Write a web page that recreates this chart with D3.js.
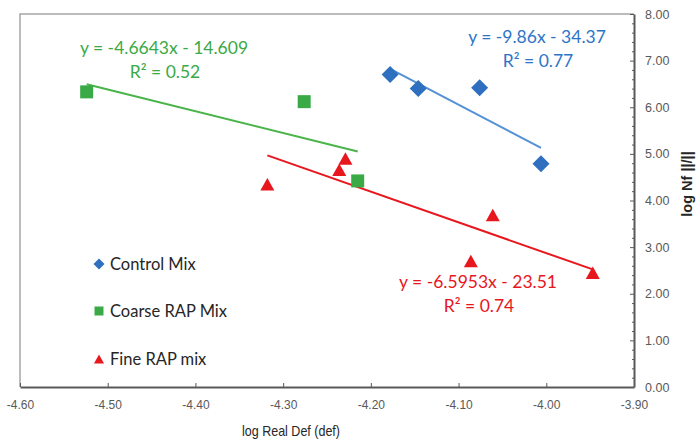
<!DOCTYPE html>
<html>
<head>
<meta charset="utf-8">
<script src="https://cdn.jsdelivr.net/npm/d3@7"></script>
<style>
  html, body { margin: 0; padding: 0; background: #fff; }
  svg { display: block; }
</style>
</head>
<body>
<svg id="chart" width="696" height="442"></svg>
<script>
// Axis ticks
const xTicks = [-4.6, -4.5, -4.4, -4.3, -4.2, -4.1, -4.0, -3.9];
const yTicks = [0, 1, 2, 3, 4, 5, 6, 7, 8];

// Control Mix
const controlX = [-4.178, -4.146, -4.076, -4.006];
const controlY = [6.70, 6.40, 6.42, 4.79];

// Coarse RAP Mix
const coarseX = [-4.524, -4.276, -4.215];
const coarseY = [6.33, 6.12, 4.42];

// Fine RAP mix
const fineX = [-4.318, -4.236, -4.229, -4.086, -4.061, -3.947];
const fineY = [4.35, 4.66, 4.90, 2.70, 3.69, 2.45];

// Linear trend lines: y = slope * x + intercept
const seriesNames = ["Control Mix", "Coarse RAP Mix", "Fine RAP mix"];
const trendSlopes = [-9.86, -4.6643, -6.5953];
const trendIntercepts = [-34.37, -14.609, -23.51];
const trendEquations = ["y = -9.86x - 34.37", "y = -4.6643x - 14.609", "y = -6.5953x - 23.51"];
const trendR2 = ["R² = 0.77", "R² = 0.52", "R² = 0.74"];

const svg = d3.select("#chart");
const plotL = 20, plotR = 634, plotT = 14, plotB = 387;

const x = d3.scaleLinear().domain([-4.6, -3.9]).range([plotL, plotR]);
const y = d3.scaleLinear().domain([0, 8]).range([plotB, plotT]);

const colors = {
  blue: "#2e6fbf", blueLine: "#5591d5",
  green: "#3aaa47", greenLine: "#49b449",
  red: "#e8161d", redLine: "#e8161d"
};

// Plot frame (top and left edges)
svg.append("path")
  .attr("d", `M${plotL},${plotB} V${plotT} H${plotR}`)
  .attr("fill", "none").attr("stroke", "#a6a6a6").attr("stroke-width", 1.5);

const fmt = d => d.toFixed(2);

// X axis (bottom)
const gx = svg.append("g").attr("transform", `translate(0,${plotB})`)
  .call(d3.axisBottom(x).tickValues(xTicks).tickFormat(fmt)
    .tickSizeInner(-4).tickSizeOuter(0).tickPadding(13));
gx.select(".domain").attr("stroke", "#595959").attr("stroke-width", 2);
gx.selectAll(".tick line").attr("stroke", "#595959");
gx.selectAll("text").attr("fill", "#595959")
  .style("font-family", "'Liberation Sans', Arial, sans-serif").style("font-size", "12px");

// Y axis (right side) with minor ticks
const minorTicks = d3.range(0, 8.001, 0.2).filter(v => Math.abs(v - Math.round(v)) > 1e-6);
const gyMinor = svg.append("g").attr("transform", `translate(${plotR},0)`)
  .call(d3.axisRight(y).tickValues(minorTicks).tickFormat("").tickSizeInner(-2).tickSizeOuter(0));
gyMinor.select(".domain").remove();
gyMinor.selectAll(".tick line").attr("stroke", "#595959");

const gy = svg.append("g").attr("transform", `translate(${plotR},0)`)
  .call(d3.axisRight(y).tickValues(yTicks).tickFormat(fmt)
    .tickSizeInner(-4).tickSizeOuter(0).tickPadding(11));
gy.select(".domain").attr("stroke", "#595959").attr("stroke-width", 2);
gy.selectAll(".tick line").attr("stroke", "#595959");
gy.selectAll("text").attr("fill", "#595959")
  .style("font-family", "'Liberation Sans', Arial, sans-serif").style("font-size", "12.5px");

// Axis titles (condensed lettering)
svg.append("text")
  .attr("x", 291).attr("y", 436).attr("text-anchor", "middle")
  .attr("textLength", 98).attr("lengthAdjust", "spacingAndGlyphs")
  .attr("fill", "#262626")
  .style("font-family", "'Liberation Sans', Arial, sans-serif")
  .style("font-size", "15px")
  .text("log Real Def (def)");

svg.append("text")
  .attr("transform", "translate(692,184) rotate(-90)")
  .attr("text-anchor", "middle")
  .attr("fill", "#262626")
  .style("font-family", "'Liberation Sans', Arial, sans-serif")
  .style("font-size", "14.5px").style("font-weight", "bold")
  .text("log Nf ||/||");

// Trend lines over each series' x-range
const seriesX = [controlX, coarseX, fineX];
const lineColors = [colors.blueLine, colors.greenLine, colors.redLine];
seriesX.forEach((xs, i) => {
  const x0 = d3.min(xs), x1 = d3.max(xs);
  const f = v => trendSlopes[i] * v + trendIntercepts[i];
  svg.append("line")
    .attr("x1", x(x0)).attr("y1", y(f(x0)))
    .attr("x2", x(x1)).attr("y2", y(f(x1)))
    .attr("stroke", lineColors[i]).attr("stroke-width", 2);
});

// Marker shapes
const diamond = s => `M0,${-s}L${s},0L0,${s}L${-s},0Z`;
const square = s => `M${-s},${-s}H${s}V${s}H${-s}Z`;
const triangle = (w, h) => `M0,${-h / 2}L${w / 2},${h / 2}L${-w / 2},${h / 2}Z`;

svg.append("g").selectAll("path").data(d3.zip(coarseX, coarseY)).join("path")
  .attr("transform", d => `translate(${x(d[0])},${y(d[1])})`)
  .attr("d", square(6.5)).attr("fill", colors.green);

svg.append("g").selectAll("path").data(d3.zip(fineX, fineY)).join("path")
  .attr("transform", d => `translate(${x(d[0])},${y(d[1])})`)
  .attr("d", triangle(14, 12.5)).attr("fill", colors.red);

svg.append("g").selectAll("path").data(d3.zip(controlX, controlY)).join("path")
  .attr("transform", d => `translate(${x(d[0])},${y(d[1])})`)
  .attr("d", diamond(8.5)).attr("fill", colors.blue);

// Trend equations
const eqFont = "Lato, 'Open Sans', sans-serif";
const eqPos = [[537, 37], [164, 48], [478, 282]];
const eqColors = ["#2e75c8", "#3aaa47", "#e8161d"];
eqPos.forEach((p, i) => {
  const t = svg.append("text").attr("text-anchor", "middle").attr("fill", eqColors[i])
    .style("font-family", eqFont).style("font-size", "17.5px");
  t.append("tspan").attr("x", p[0]).attr("y", p[1]).attr("dy", "0.35em").text(trendEquations[i]);
  t.append("tspan").attr("x", p[0] + 1).attr("y", p[1] + 24).attr("dy", "0.35em").text(trendR2[i]);
});

// Legend
const legendY = [264, 311, 359];
const legendShapes = [diamond(5.5), square(4.5), triangle(10, 9)];
const legendColors = [colors.blue, colors.green, colors.red];
legendY.forEach((ly, i) => {
  svg.append("path").attr("transform", `translate(99,${ly})`)
    .attr("d", legendShapes[i]).attr("fill", legendColors[i]);
  svg.append("text").attr("x", 110).attr("y", ly).attr("dy", "0.35em")
    .attr("fill", "#262626")
    .style("font-family", eqFont).style("font-size", "16.5px")
    .text(seriesNames[i]);
});
</script>
</body>
</html>
